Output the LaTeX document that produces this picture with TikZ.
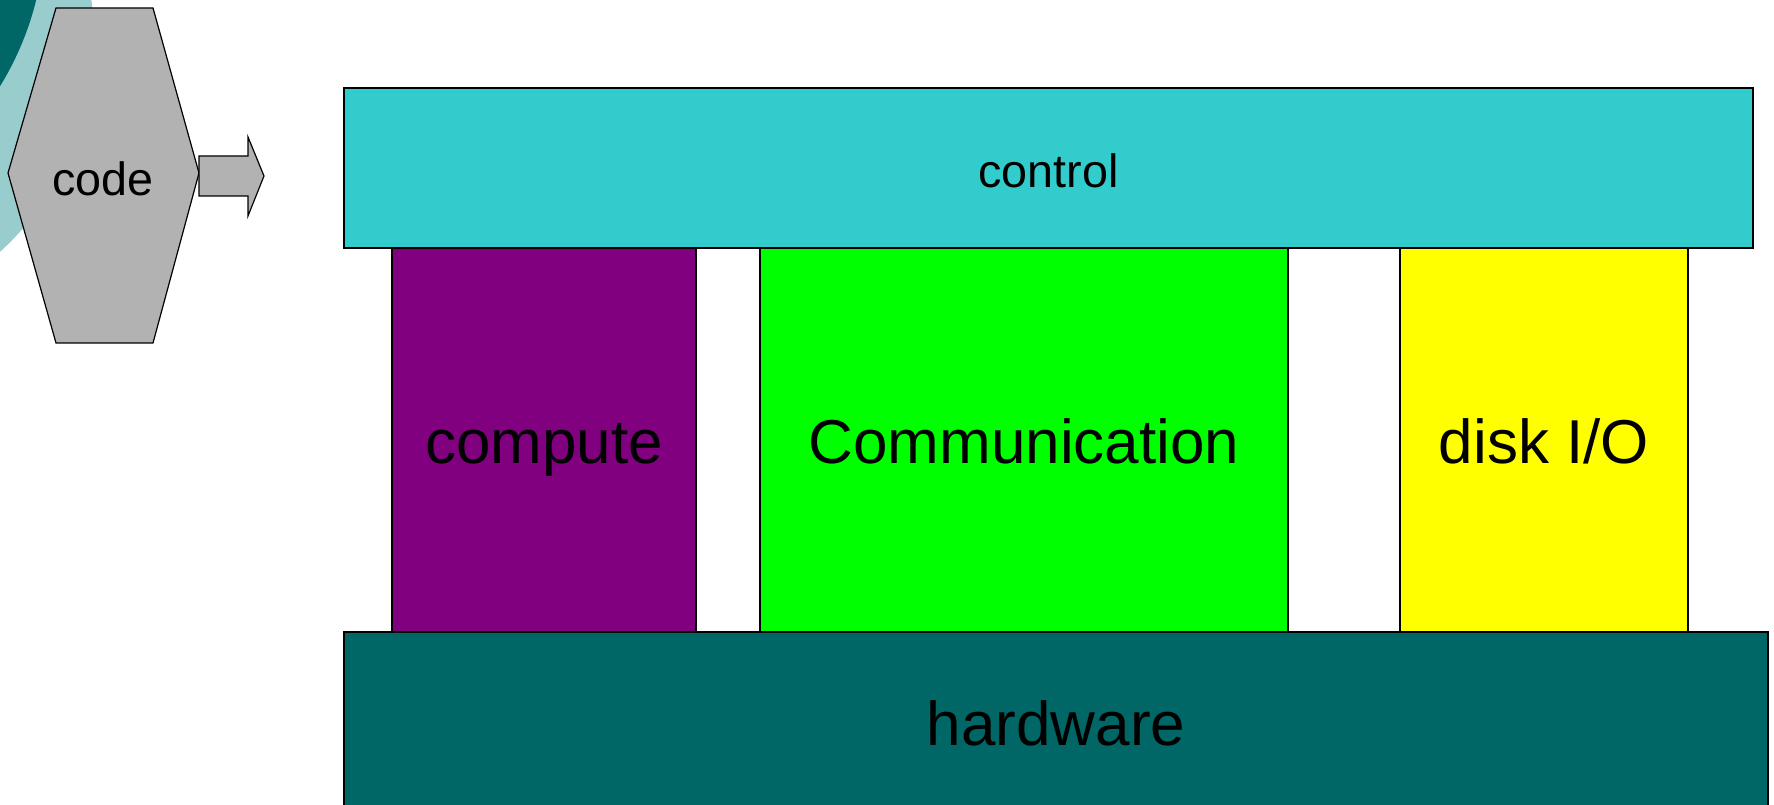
\documentclass[tikz,border=0pt]{standalone}
\usepackage{fontspec}
\setmainfont{Liberation Sans}
\definecolor{ctrlc}{HTML}{33CCCC}
\definecolor{purp}{HTML}{800080}
\definecolor{grn}{HTML}{00FF00}
\definecolor{yel}{HTML}{FFFF00}
\definecolor{hw}{HTML}{006666}
\definecolor{hexg}{HTML}{B2B2B2}
\definecolor{lteal}{HTML}{99CCCC}
\tikzset{
  layer/.style={draw=black, line width=0.9pt, inner sep=0pt, text=black},
  smalltxt/.style={font=\fontsize{35}{40}\selectfont, text height=28.8pt, text depth=0pt},
  bigtxt/.style={font=\fontsize{46.5}{52}\selectfont, text height=35pt, text depth=0pt},
}
\begin{document}
\begin{tikzpicture}[x=0.75pt,y=-0.75pt]
\useasboundingbox (0,0) rectangle (1774,805);
\clip (0,0) rectangle (1774,805);
% background decoration
\fill[lteal] (-194,39) circle[radius=288];
\fill[hw] (-259,-73) circle[radius=304];
% code hexagon
\filldraw[fill=hexg, draw=black, line width=0.9pt] (56,8) -- (153,8) -- (199,173) -- (153,343) -- (56,343) -- (8,173) -- cycle;
\node[smalltxt] (code) at (103,176) {code};
% arrow
\filldraw[fill=hexg, draw=black, line width=0.9pt] (199,156) -- (248,156) -- (248,137) -- (264,176) -- (248,216) -- (248,196) -- (199,196) -- cycle;
% columns
\node[layer, fill=purp, minimum width=228pt, minimum height=288pt, bigtxt] (compute) at (544,440) {compute};
\node[layer, fill=grn, minimum width=396pt, minimum height=288pt, bigtxt] (comm) at (1024,440) {Communication};
\node[layer, fill=yel, minimum width=216pt, minimum height=288pt, bigtxt] (disk) at (1544,440) {disk I/O};
% control
\node[layer, fill=ctrlc, minimum width=1056.75pt, minimum height=120pt, smalltxt] (control) at (1048.5,168) {control};
% hardware
\node[layer, fill=hw, minimum width=1068pt, minimum height=138pt, bigtxt, text height=31.6pt] (hardware) at (1056,724) {hardware};
\end{tikzpicture}
\end{document}
